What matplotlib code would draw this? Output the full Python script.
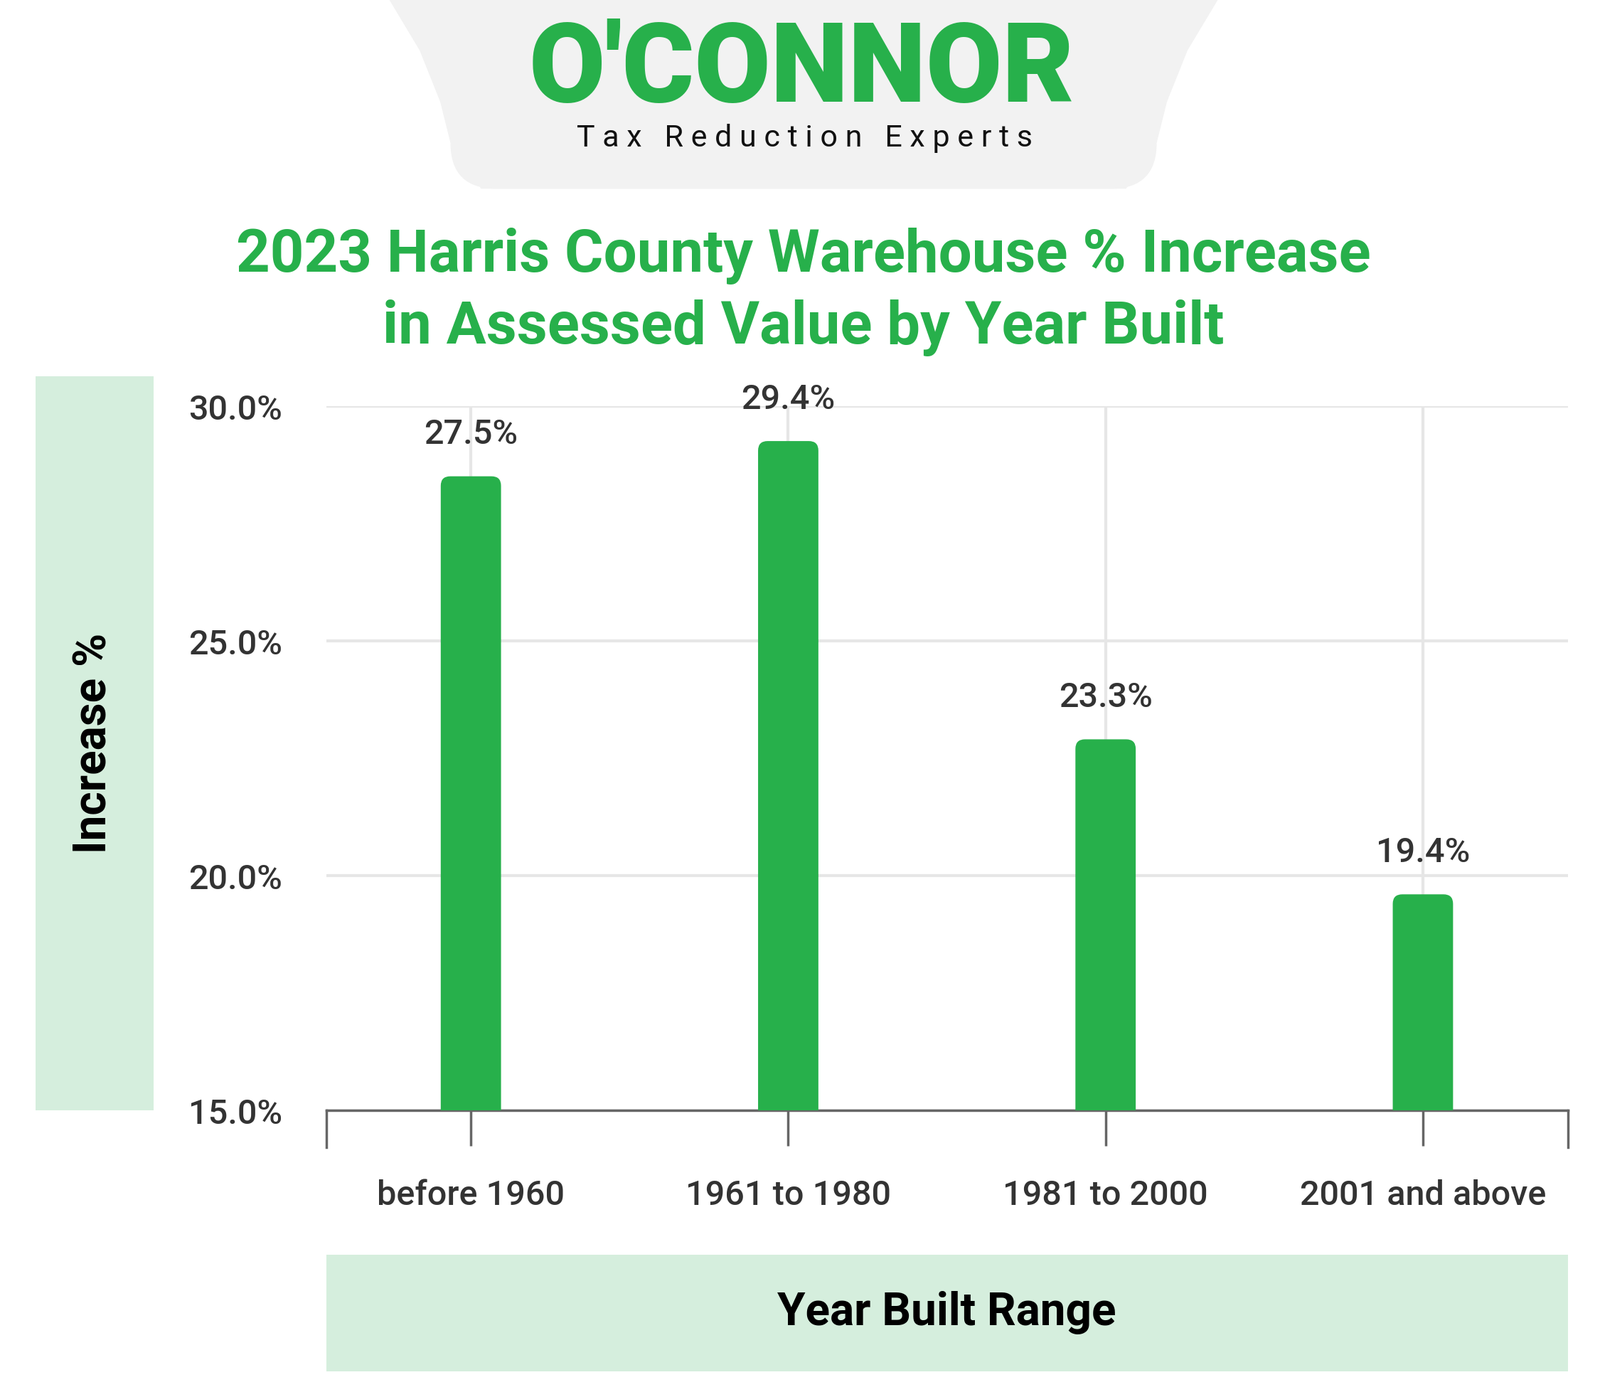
import matplotlib
matplotlib.use("Agg")
import matplotlib.pyplot as plt
from matplotlib.patches import FancyBboxPatch, Rectangle, Polygon

categories = ["before 1960", "1961 to 1980", "1981 to 2000", "2001 and above"]
bar_heights = [28.5, 29.25, 22.9, 19.6]
value_labels = ["27.5%", "29.4%", "23.3%", "19.4%"]
yticks = [15, 20, 25, 30]

GREEN = "#27b04b"
LIGHT = "#d5eedd"
W, H = 1563, 1360
plt.rcParams["font.family"] = "Roboto"
fig = plt.figure(figsize=(22.5, 19.58), dpi=100)

def fx(x): return x / W
def fy(y): return 1 - y / H

bg = fig.add_axes([0, 0, 1, 1], zorder=0)
bg.set_xlim(0, W); bg.set_ylim(H, 0); bg.axis("off")
logo = Polygon([(380, 0), (1190, 0), (1160, 50), (1140, 100), (1130, 140), (1100, 185),
                (470, 185), (440, 140), (430, 100), (410, 50)], closed=True, fc="#f2f2f2", ec="none")
bg.add_patch(logo)
bg.add_patch(FancyBboxPatch((440, 100), 690, 85, boxstyle="round,pad=0,rounding_size=45", fc="#f2f2f2", ec="none"))
bg.text(783, 70, "O'CONNOR", color=GREEN, fontsize=112, fontweight="black", ha="center", va="center")
bg.text(786, 135, "T a x   R e d u c t i o n   E x p e r t s", color="#111111", fontsize=31, ha="center", va="center",
        fontstretch="expanded")
bg.add_patch(Rectangle((35, 368), 115, 717, fc=LIGHT, ec="none"))
bg.add_patch(Rectangle((319, 1226), 1213, 114, fc=LIGHT, ec="none"))
bg.text(785, 250, "2023 Harris County Warehouse % Increase", color=GREEN, fontsize=60, fontweight="bold", ha="center", va="center")
bg.text(785, 320, "in Assessed Value by Year Built", color=GREEN, fontsize=60, fontweight="bold", ha="center", va="center")
bg.text(92, 726, "Increase %", color="black", fontsize=46, fontweight="bold", rotation=90, ha="center", va="center")
bg.text(925, 1282, "Year Built Range", color="black", fontsize=46, fontweight="bold", ha="center", va="center")

ax = fig.add_axes([fx(319), fy(1085), fx(1532 - 319), (1085 - 397) / H], zorder=1)
ax.patch.set_alpha(0)
ax.set_xlim(-141 / 310, 3 + 142 / 310)
ax.set_ylim(15, 30)
bw = 0.19
for i, (h, lab) in enumerate(zip(bar_heights, value_labels)):
    p = FancyBboxPatch((i - bw / 2, 13), bw, h - 13, boxstyle="round,pad=0,rounding_size=0.03",
                       mutation_aspect=6.75, fc=GREEN, ec="none", zorder=3, clip_on=True)
    ax.add_patch(p)
    ax.text(i, h + 0.55, lab, ha="center", va="bottom", fontsize=35, color="#333333", fontweight="medium")
ax.set_yticks(yticks)
ax.set_yticklabels([f"{v:.1f}%" for v in yticks], fontsize=35, color="#333333", fontweight="medium")
ax.set_xticks(list(range(len(categories))))
ax.set_xticklabels(categories, fontsize=35, color="#333333", fontweight="medium")
ax.tick_params(axis="y", length=0, pad=45)
ax.tick_params(axis="x", length=36, width=2.5, color="#666666", pad=33)
ax.grid(True, color="#e6e6e6", linewidth=3, zorder=0)
ax.set_axisbelow(True)
for s in ["top", "right", "left"]:
    ax.spines[s].set_visible(False)
ax.spines["bottom"].set_color("#666666")
ax.spines["bottom"].set_linewidth(2.5)
for xe in ax.get_xlim():
    ax.plot([xe, xe], [15, 15 - 0.78], color="#666666", lw=2.5, clip_on=False)

fig.savefig("out.png", dpi=100)
